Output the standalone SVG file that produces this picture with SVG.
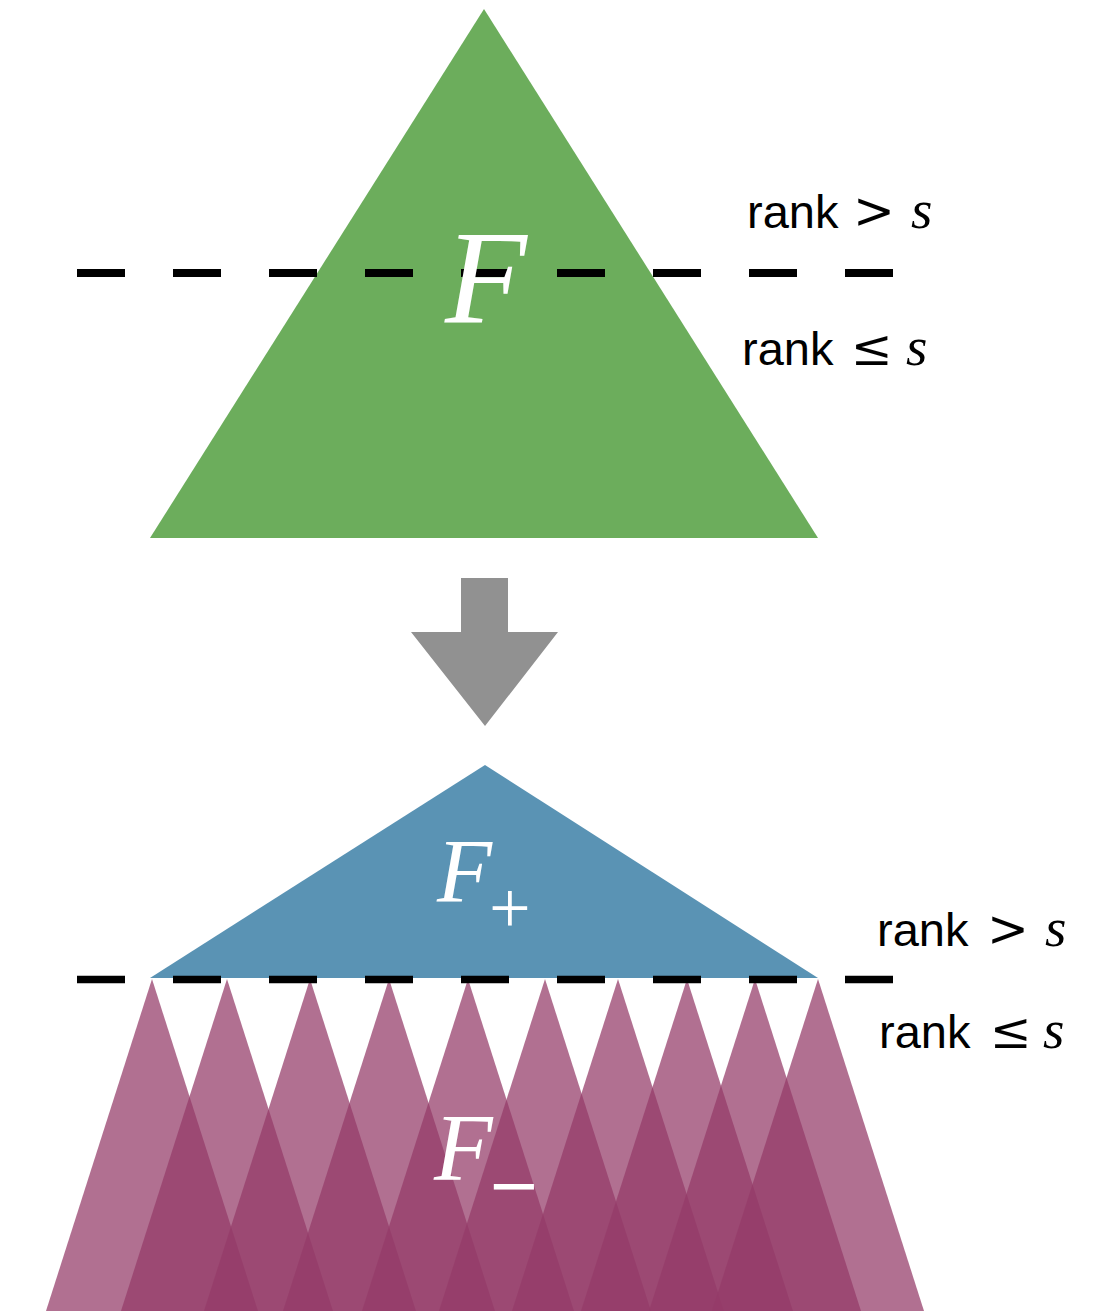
<svg xmlns="http://www.w3.org/2000/svg" width="1107" height="1311" viewBox="0 0 1107 1311">
  <style>
    .lbl { font-family: "Liberation Sans", Arial, sans-serif; font-size: 47px; fill: #000; }
    .sym { font-family: "DejaVu Serif", "Liberation Serif", serif; font-size: 50px; fill: #000; }
    .var { font-family: "Liberation Serif", "Times New Roman", serif; font-style: italic; font-size: 55px; fill: #000; }
    .big { font-family: "Liberation Serif", "Times New Roman", serif; font-style: italic; fill: #fff; }
    .dash { stroke: #000; stroke-dasharray: 48 48; fill: none; }
    .pt { fill: #943b68; fill-opacity: 0.73; }
  </style>
  <rect width="1107" height="1311" fill="#fff"/>

  <g id="node-F">
    <polygon points="484,9 150,538 818,538" fill="#6cad5c"/>
  </g>

  <g id="connectors">
    <polygon id="arrow" points="461,578 508,578 508,632 558,632 485,726 411,632 461,632" fill="#919191"/>
  </g>

  <g id="node-Fplus">
    <polygon points="485,765 150,978 818,978" fill="#5a93b4"/>
  </g>

  <g id="node-Fminus">
    <polygon class="pt" points="152,979 46,1311 258,1311"/>
    <polygon class="pt" points="227,979 121,1311 333,1311"/>
    <polygon class="pt" points="310,979 204,1311 416,1311"/>
    <polygon class="pt" points="389,979 283,1311 495,1311"/>
    <polygon class="pt" points="468,979 362,1311 574,1311"/>
    <polygon class="pt" points="545,979 439,1311 651,1311"/>
    <polygon class="pt" points="618,979 512,1311 724,1311"/>
    <polygon class="pt" points="687,979 581,1311 793,1311"/>
    <polygon class="pt" points="755,979 649,1311 861,1311"/>
    <polygon class="pt" points="818,979 712,1311 924,1311"/>
  </g>

  <g id="thresholds">
    <line class="dash" x1="77" y1="273" x2="893" y2="273" stroke-width="8"/>
    <line class="dash" x1="77" y1="979.5" x2="893" y2="979.5" stroke-width="7.5"/>
  </g>

  <g id="node-labels">
    <text class="big" x="445" y="322" font-size="134">F</text>
    <text class="big" x="437" y="902" font-size="90">F</text>
    <text x="489" y="933" font-family="Liberation Serif, serif" font-size="74" fill="#fff">+</text>
    <text class="big" x="434" y="1180" font-size="96">F</text>
    <text x="487" y="1207" font-family="DejaVu Sans, sans-serif" font-size="64" fill="#fff">−</text>
  </g>

  <g id="rank-labels">
    <text class="lbl" x="747" y="228">rank</text>
    <text class="sym" x="853" y="228">&gt;</text>
    <text class="var" x="911" y="228">s</text>

    <text class="lbl" x="742" y="365">rank</text>
    <text class="sym" x="851" y="365">≤</text>
    <text class="var" x="906" y="365">s</text>

    <text class="lbl" x="877" y="946">rank</text>
    <text class="sym" x="987" y="946">&gt;</text>
    <text class="var" x="1045" y="946">s</text>

    <text class="lbl" x="879" y="1048">rank</text>
    <text class="sym" x="990" y="1048">≤</text>
    <text class="var" x="1043" y="1048">s</text>
  </g>
</svg>
